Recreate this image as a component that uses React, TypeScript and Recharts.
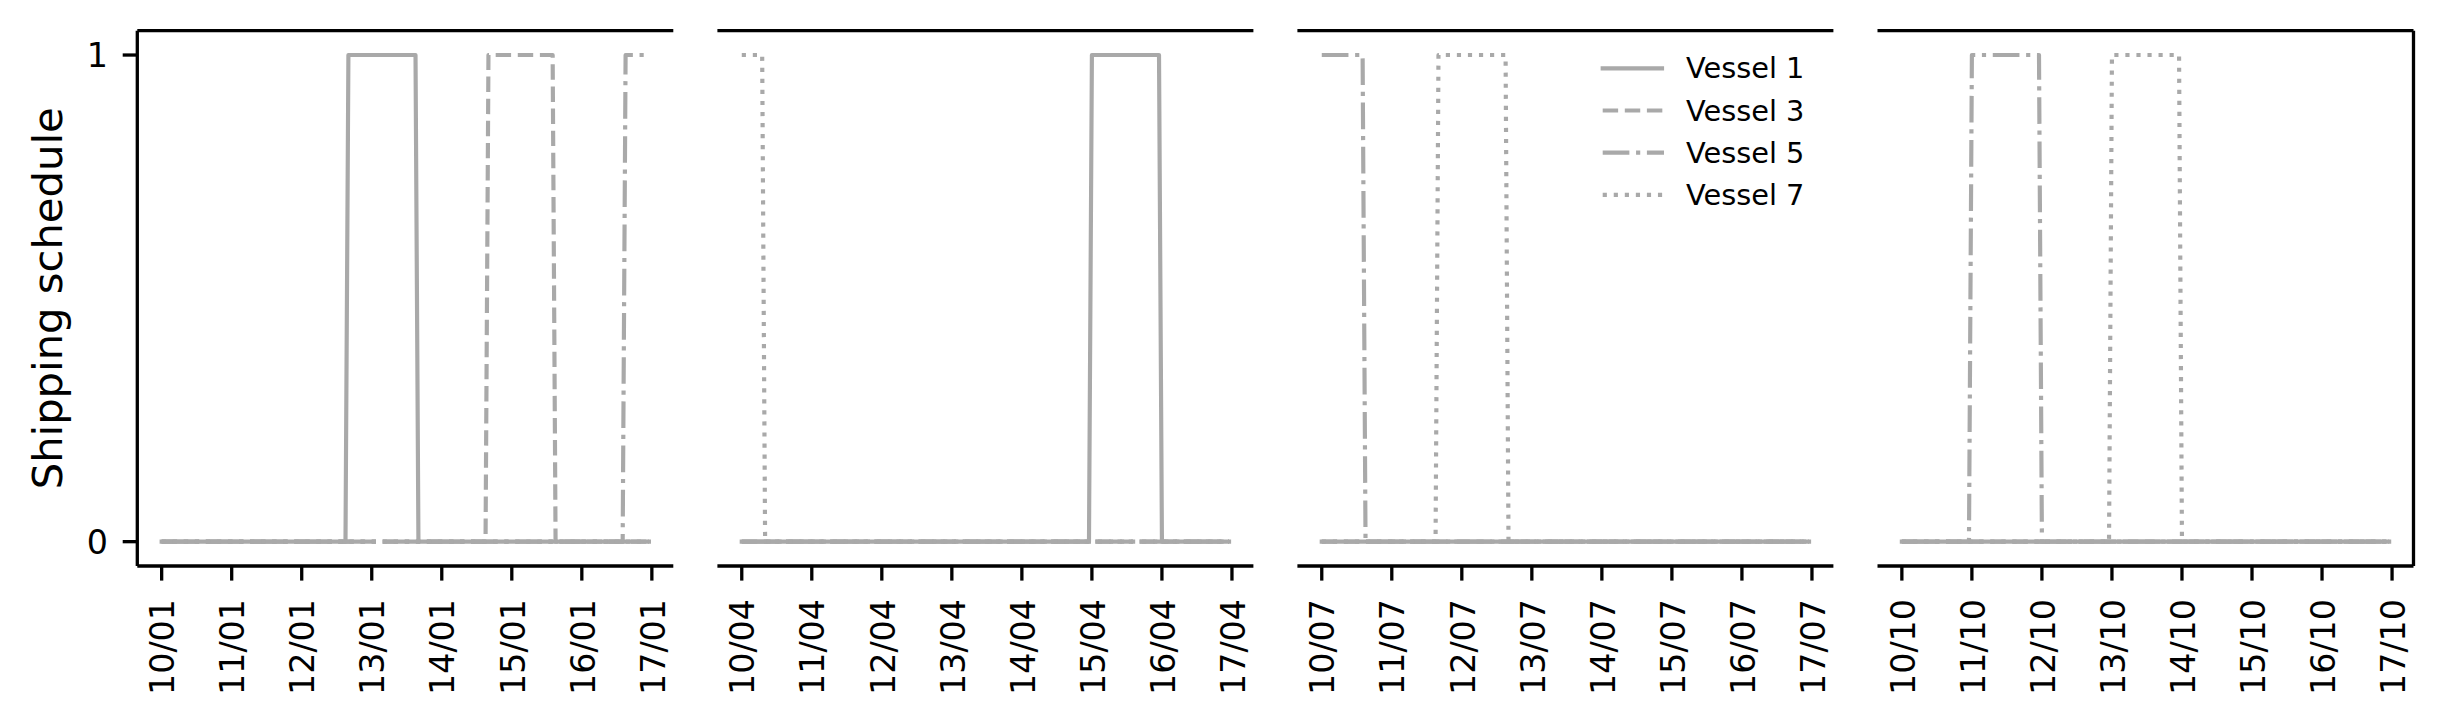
import React from 'react';
import { LineChart, Line, XAxis, YAxis, ReferenceLine, Legend } from 'recharts';

// ---------------- data ----------------
const janTicks = ['10/01', '11/01', '12/01', '13/01', '14/01', '15/01', '16/01', '17/01'];
const aprTicks = ['10/04', '11/04', '12/04', '13/04', '14/04', '15/04', '16/04', '17/04'];
const julTicks = ['10/07', '11/07', '12/07', '13/07', '14/07', '15/07', '16/07', '17/07'];
const octTicks = ['10/10', '11/10', '12/10', '13/10', '14/10', '15/10', '16/10', '17/10'];

// tick positions in hours from the 10th, 00:00
const tickHours = [0, 24, 48, 72, 96, 120, 144, 168];
const yTicks = [0, 1];

// schedule breakpoints: [hour, value]
const janVessel1: [number, number][] = [[0, 0], [63, 0], [64, 1], [87, 1], [88, 0], [167, 0]];
const janVessel3: [number, number][] = [[0, 0], [111, 0], [112, 1], [134, 1], [135, 0], [167, 0]];
const janVessel5: [number, number][] = [[0, 0], [158, 0], [159, 1], [167, 1]];
const janVessel7: [number, number][] = [[0, 0], [167, 0]];

const aprVessel1: [number, number][] = [[0, 0], [119, 0], [120, 1], [143, 1], [144, 0], [167, 0]];
const aprVessel3: [number, number][] = [[0, 0], [167, 0]];
const aprVessel5: [number, number][] = [[0, 0], [167, 0]];
const aprVessel7: [number, number][] = [[0, 1], [7, 1], [8, 0], [167, 0]];

const julVessel1: [number, number][] = [[0, 0], [167, 0]];
const julVessel3: [number, number][] = [[0, 0], [167, 0]];
const julVessel5: [number, number][] = [[0, 1], [14, 1], [15, 0], [167, 0]];
const julVessel7: [number, number][] = [[0, 0], [39, 0], [40, 1], [63, 1], [64, 0], [167, 0]];

const octVessel1: [number, number][] = [[0, 0], [167, 0]];
const octVessel3: [number, number][] = [[0, 0], [167, 0]];
const octVessel5: [number, number][] = [[0, 0], [23, 0], [24, 1], [47, 1], [48, 0], [167, 0]];
const octVessel7: [number, number][] = [[0, 0], [71, 0], [72, 1], [95, 1], [96, 0], [167, 0]];

const vesselNames = ['Vessel 1', 'Vessel 3', 'Vessel 5', 'Vessel 7'];

// ---------------- styling / layout ----------------
const W = 2443;
const H = 720;
const FONT = '"DejaVu Sans", sans-serif';
const GREY = '#a9a9a9';
const LW = 4.17;
const SPINE = 3.3;
const TICK_LEN = 14.6;
const TICK_FS = 33.3;
const LEGEND_FS = 28.8;
const LABEL_FS = 41.7;

const PLOT_TOP = 30.7;
const PLOT_BOTTOM = 566;
const PLOT_W = 536;
const LEFTS = [137.3, 717.4, 1297.4, 1877.5];
const X_AXIS_H = 120;
const Y_AXIS_W = 60;

const X_DOMAIN: [number, number] = [-8.35, 175.35];
const Y_DOMAIN: [number, number] = [-0.05, 1.05];

const dashes: (string | undefined)[] = [
  undefined,
  `${3.7 * LW} ${1.6 * LW}`,
  `${6.4 * LW} ${1.6 * LW} ${1 * LW} ${1.6 * LW}`,
  `${1 * LW} ${1.65 * LW}`,
];

const panels = [
  { ticks: janTicks, series: [janVessel1, janVessel3, janVessel5, janVessel7] },
  { ticks: aprTicks, series: [aprVessel1, aprVessel3, aprVessel5, aprVessel7] },
  { ticks: julTicks, series: [julVessel1, julVessel3, julVessel5, julVessel7] },
  { ticks: octTicks, series: [octVessel1, octVessel3, octVessel5, octVessel7] },
];

const toRows = (pts: [number, number][]) => pts.map(([t, v]) => ({ t, v }));

function makeXTick(labels: string[]) {
  return (props: any) => {
    const { x, payload } = props;
    const idx = tickHours.indexOf(payload.value);
    const label = idx >= 0 ? labels[idx] : '';
    const yTop = 599;
    return (
      <text
        transform={`translate(${x},${yTop}) rotate(-90)`}
        textAnchor="end"
        dy={12.7}
        fontSize={TICK_FS}
        fontFamily={FONT}
        fill="#000"
      >
        {label}
      </text>
    );
  };
}

function YTick(props: any) {
  const { y, payload } = props;
  return (
    <text x={108} y={y} dy={12.4} textAnchor="end" fontSize={TICK_FS} fontFamily={FONT} fill="#000">
      {String(payload.value)}
    </text>
  );
}

function YLabel() {
  const cy = (PLOT_TOP + PLOT_BOTTOM) / 2;
  return (
    <text
      transform={`translate(61.7,${cy}) rotate(-90)`}
      textAnchor="middle"
      fontSize={LABEL_FS}
      fontFamily={FONT}
      fill="#000"
    >
      Shipping schedule
    </text>
  );
}

function LegendBox() {
  const rowY = [28.3, 70.5, 112.7, 154.9];
  return (
    <svg width={260} height={190} style={{ display: 'block', overflow: 'visible' }}>
      {vesselNames.map((name, i) => (
        <g key={name}>
          <line
            x1={12.7}
            x2={i === 0 ? 72 : 74}
            y1={rowY[i]}
            y2={rowY[i]}
            stroke={GREY}
            strokeWidth={LW}
            strokeDasharray={dashes[i]}
            strokeLinecap={i === 0 ? 'square' : 'butt'}
          />
          <text x={96} y={rowY[i]} dy={10} fontSize={LEGEND_FS} fontFamily={FONT} fill="#000">
            {name}
          </text>
        </g>
      ))}
    </svg>
  );
}

function Panel({ index }: { index: number }) {
  const p = panels[index];
  const left = LEFTS[index];
  const first = index === 0;
  const last = index === panels.length - 1;
  const margin = {
    top: PLOT_TOP,
    bottom: H - PLOT_BOTTOM - X_AXIS_H,
    left: first ? left - Y_AXIS_W : left,
    right: W - left - PLOT_W,
  };
  return (
    <div style={{ position: 'absolute', left: 0, top: 0, width: W, height: H }}>
      <LineChart width={W} height={H} margin={margin}>
        <XAxis
          dataKey="t"
          type="number"
          domain={X_DOMAIN}
          allowDataOverflow
          ticks={tickHours}
          interval={0}
          height={X_AXIS_H}
          tickSize={TICK_LEN}
          axisLine={{ stroke: '#000', strokeWidth: SPINE }}
          tickLine={{ stroke: '#000', strokeWidth: SPINE }}
          tick={makeXTick(p.ticks)}
        />
        {first ? (
          <YAxis
            type="number"
            domain={Y_DOMAIN}
            allowDataOverflow
            ticks={yTicks}
            interval={0}
            width={Y_AXIS_W}
            tickSize={TICK_LEN}
            axisLine={{ stroke: '#000', strokeWidth: SPINE }}
            tickLine={{ stroke: '#000', strokeWidth: SPINE }}
            tick={<YTick />}
            label={<YLabel />}
          />
        ) : (
          <YAxis type="number" domain={Y_DOMAIN} allowDataOverflow ticks={yTicks} hide />
        )}
        <ReferenceLine y={Y_DOMAIN[1]} stroke="#000" strokeWidth={SPINE} ifOverflow="visible" />
        {last && <ReferenceLine x={X_DOMAIN[1]} stroke="#000" strokeWidth={SPINE} ifOverflow="visible" />}
        {p.series.map((s, i) => (
          <Line
            key={vesselNames[i]}
            name={vesselNames[i]}
            data={toRows(s)}
            dataKey="v"
            type="linear"
            stroke={GREY}
            strokeWidth={LW}
            strokeDasharray={dashes[i]}
            strokeLinecap={i === 0 ? 'square' : 'butt'}
            strokeLinejoin="round"
            dot={false}
            activeDot={false}
            isAnimationActive={false}
          />
        ))}
        {index === 2 && (
          <Legend
            layout="horizontal"
            verticalAlign="middle"
            align="center"
            content={<LegendBox />}
            wrapperStyle={{ left: 1590, top: 40, width: 260, height: 190 }}
          />
        )}
      </LineChart>
    </div>
  );
}

export default function App() {
  return (
    <div
      style={{
        position: 'absolute',
        left: 0,
        top: 0,
        width: W,
        height: H,
        background: '#fff',
        overflow: 'hidden',
        fontFamily: FONT,
      }}
    >
      {panels.map((_, i) => (
        <Panel key={i} index={i} />
      ))}
    </div>
  );
}
